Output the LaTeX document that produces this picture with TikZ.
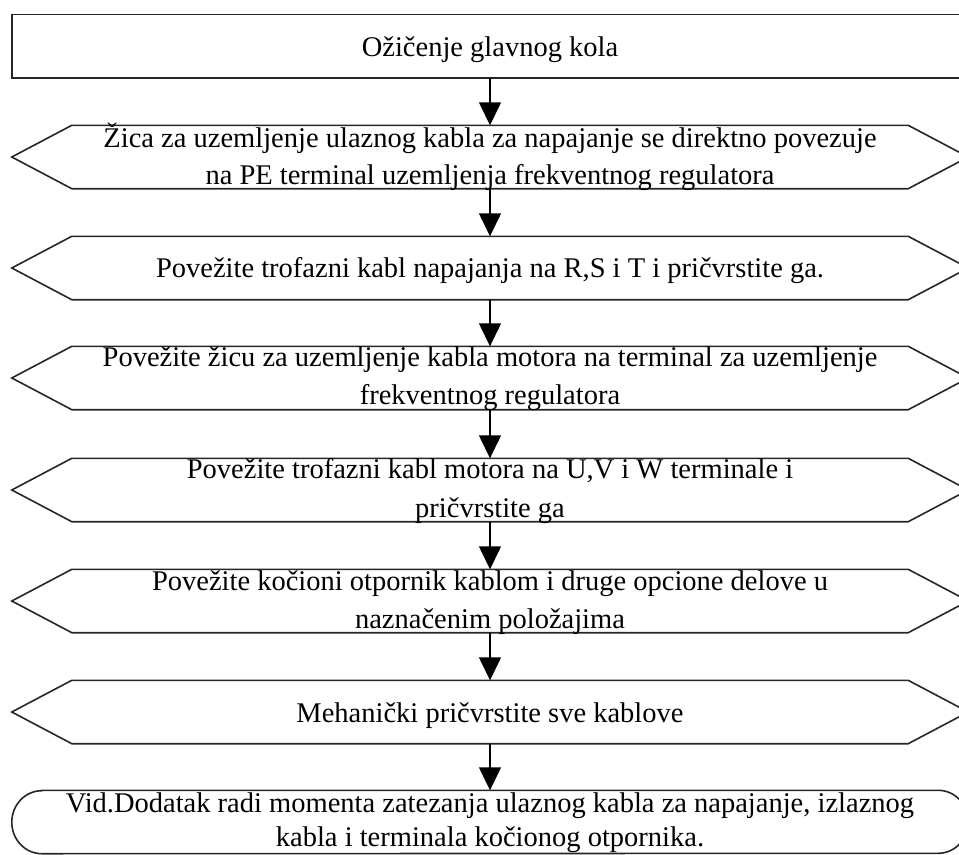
\documentclass[tikz,border=0pt]{standalone}
\usepackage{fontspec}
\setmainfont{Liberation Serif}
\usetikzlibrary{arrows.meta}

\begin{document}
\begin{tikzpicture}[x=1bp,y=-1bp,
  shapebox/.style={rectangle, minimum width=956bp, minimum height=63bp, inner sep=0pt},
  outline/.style={draw=black!85, line width=1.6bp, line join=miter},
  txt/.style={anchor=base, inner sep=0pt, font=\fontsize{28.5bp}{34bp}\selectfont},
  flow/.style={draw=black, line width=1.4bp, -{Triangle[width=22bp,length=23bp]}, shorten >=0pt}
]
\useasboundingbox (0,0) rectangle (959,855);

% geometry holders for the eight steps
\node[shapebox] (b1) at (490,46)  {};
\node[shapebox] (b2) at (490,157) {};
\node[shapebox] (b3) at (490,268) {};
\node[shapebox] (b4) at (490,378) {};
\node[shapebox] (b5) at (490,490) {};
\node[shapebox] (b6) at (490,601) {};
\node[shapebox] (b7) at (490,712) {};
\node[shapebox] (b8) at (490,822) {};

% first step: plain process box
\draw[outline] (b1.north west) rectangle (b1.south east);

% preparation steps: pointed hexagons
\foreach \b in {b2,b3,b4,b5,b6,b7}{
  \draw[outline] (\b.west) -- ([xshift=60bp]\b.north west) -- ([xshift=-60bp]\b.north east)
    -- (\b.east) -- ([xshift=-60bp]\b.south east) -- ([xshift=60bp]\b.south west) -- cycle;
}

% final step: terminator with rounded ends (radii in picture units)
\draw[outline] ([xshift=30bp]b8.north west) -- ([xshift=-30bp]b8.north east)
  arc[start angle=-90, end angle=90, x radius=30, y radius=31.5]
  -- ([xshift=30bp]b8.south west)
  arc[start angle=90, end angle=270, x radius=30, y radius=31.5] -- cycle;

% connectors
\draw[flow] (b1.south) -- (b2.north);
\draw[flow] (b2.south) -- (b3.north);
\draw[flow] (b3.south) -- (b4.north);
\draw[flow] (b4.south) -- (b5.north);
\draw[flow] (b5.south) -- (b6.north);
\draw[flow] (b6.south) -- (b7.north);
\draw[flow] (b7.south) -- (b8.north);

% step texts
\node[txt] (t1)  at (490,56)  {Ožičenje glavnog kola};
\node[txt] (t2a) at (490,147) {Žica za uzemljenje ulaznog kabla za napajanje se direktno povezuje};
\node[txt] (t2b) at (490,184) {na PE terminal uzemljenja frekventnog regulatora};
\node[txt] (t3)  at (490,277) {Povežite trofazni kabl napajanja na R,S i T i pričvrstite ga.};
\node[txt] (t4a) at (490,366) {Povežite žicu za uzemljenje kabla motora na terminal za uzemljenje};
\node[txt] (t4b) at (490,404) {frekventnog regulatora};
\node[txt] (t5a) at (490,478) {Povežite trofazni kabl motora na U,V i W terminale i};
\node[txt] (t5b) at (490,517) {pričvrstite ga};
\node[txt] (t6a) at (490,590) {Povežite kočioni otpornik kablom i druge opcione delove u};
\node[txt] (t6b) at (490,628) {naznačenim položajima};
\node[txt] (t7)  at (490,722) {Mehanički pričvrstite sve kablove};
\node[txt] (t8a) at (490,812) {Vid.Dodatak radi momenta zatezanja ulaznog kabla za napajanje, izlaznog};
\node[txt] (t8b) at (490,846) {kabla i terminala kočionog otpornika.};
\end{tikzpicture}
\end{document}
